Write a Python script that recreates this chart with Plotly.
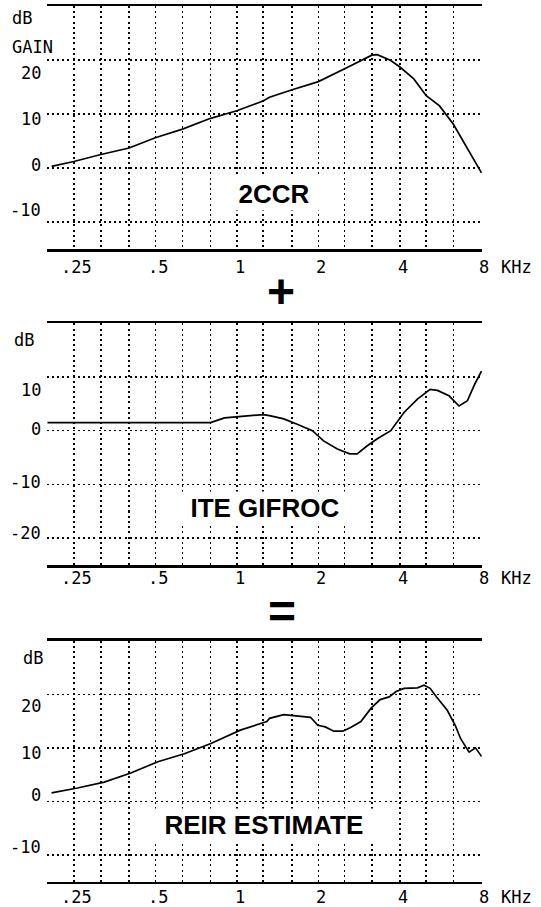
import math
import plotly.graph_objects as go

# ---------------- data (kHz, dB) ----------------
freq_2ccr = [0.207, 0.25, 0.315, 0.4, 0.5, 0.63, 0.8, 1.0, 1.25, 1.32, 1.6, 2.0, 2.5,
             2.8, 3.15, 3.3, 3.7, 4.0, 4.5, 5.0, 5.6, 6.3, 7.1, 8.0]
gain_2ccr = [0.3, 1.2, 2.5, 3.7, 5.6, 7.2, 9.2, 10.6, 12.4, 13.1, 14.5, 16.0, 18.4,
             19.6, 20.9, 21.0, 19.9, 18.7, 16.5, 13.4, 11.5, 8.1, 3.7, -0.9]

freq_ite = [0.2, 0.25, 0.315, 0.4, 0.5, 0.63, 0.8, 0.9, 1.0, 1.25, 1.32, 1.49, 1.67,
            1.90, 2.09, 2.35, 2.61, 2.78, 3.03, 3.30, 3.70, 4.14, 4.64, 5.17, 5.50,
            6.07, 6.61, 7.10, 7.56, 8.0]
gain_ite = [1.5, 1.5, 1.5, 1.5, 1.5, 1.5, 1.5, 2.4, 2.6, 3.0, 2.8, 2.2, 1.2,
            0.0, -1.9, -3.4, -4.3, -4.3, -2.8, -1.5, 0.0, 3.4, 5.9, 7.7, 7.5,
            6.5, 4.6, 5.6, 8.7, 11.1]

freq_reir = [0.207, 0.258, 0.324, 0.406, 0.511, 0.64, 0.802, 1.03, 1.29, 1.32, 1.49,
             1.67, 1.87, 1.99, 2.12, 2.28, 2.46, 2.63, 2.87, 3.13, 3.38, 3.65, 3.87,
             4.14, 4.64, 4.91, 5.17, 5.46, 5.98, 6.40, 6.70, 7.20, 7.60, 8.0]
gain_reir = [1.6, 2.5, 3.6, 5.3, 7.4, 8.9, 10.8, 13.3, 14.9, 15.5, 16.2,
             16.0, 15.7, 14.2, 13.9, 13.1, 13.1, 13.8, 14.9, 17.4, 19.0, 19.5, 20.5,
             21.1, 21.2, 21.7, 21.1, 19.5, 17.0, 14.2, 11.7, 9.2, 10.0, 8.4]

grid_freqs = [0.2, 0.25, 0.315, 0.4, 0.5, 0.63, 0.8, 1, 1.25, 1.6, 2, 2.5, 3.15, 4, 5, 6.3, 8]
freq_labels = {0.25: ".25", 0.5: ".5", 1: "1", 2: "2", 4: "4", 8: "8"}

panel_titles = ["2CCR", "ITE GIFROC", "REIR ESTIMATE"]
panel_yticks = [[-10, 0, 10, 20], [-20, -10, 0, 10], [-10, 0, 10, 20]]
panel_yranges = [[-15, 30], [-25, 20], [-15, 30]]

# ---------------- layout geometry (pixels) ----------------
W, H = 541, 907
X0, X1 = 47.5, 481.5
lo, hi = math.log10(0.2), math.log10(8)
pad = 0.003
ppu = (X1 - X0) / (hi - lo)
xdom = [(X0 - pad * ppu) / W, (X1 + pad * ppu) / W]

panel_px = [(6, 249), (323.3, 565), (640.7, 881.7)]      # top, bottom of plot areas
label_shift = [{20: -13, 10: -5, 0: 3, -10: 12},
               {10: -13, 0: 2, -10: 2, -20: 5},
               {20: -12, 10: -5, 0: 6, -10: 8}]
xlabel_offset = [18, 13, 15]          # centre of x labels below plot bottom
title_px = [(273.7, 194.2), (265, 507.5), (264.2, 825)]

MONO = "DejaVu Sans Mono"
SANS = "Liberation Sans, Arial, sans-serif"
DOT = "2px,3.2px"
FS = 17

fig = go.Figure()
series = [(freq_2ccr, gain_2ccr), (freq_ite, gain_ite), (freq_reir, gain_reir)]
annotations = []

for i, (fx, gy) in enumerate(series):
    n = "" if i == 0 else str(i + 1)
    xa = "x" + n
    fig.add_trace(go.Scatter(x=fx, y=gy, mode="lines",
                             line=dict(color="black", width=1.7),
                             xaxis=xa, yaxis="y" + n, showlegend=False,
                             hoverinfo="skip"))
    top, bot = panel_px[i]
    ydom = [1 - bot / H, 1 - top / H]
    fig.update_layout(**{
        "xaxis" + n: dict(
            type="log", range=[lo - pad, hi + pad], domain=xdom, anchor="y" + n,
            tickvals=grid_freqs, showticklabels=False, ticks="",
            showgrid=True, gridcolor="black", gridwidth=1.5, griddash=DOT,
            showline=True, mirror=True, linecolor="black", linewidth=2.5,
            zeroline=False, fixedrange=True, automargin=False),
        "yaxis" + n: dict(
            range=panel_yranges[i], domain=ydom, anchor="x" + n,
            tickvals=panel_yticks[i], showticklabels=False, ticks="",
            showgrid=True, gridcolor="black", gridwidth=1.5, griddash=DOT,
            showline=False, zeroline=False, fixedrange=True, automargin=False),
    })
    # x tick labels
    for f, lab in freq_labels.items():
        annotations.append(dict(
            text=lab, x=math.log10(f), xref=xa, xanchor="center", xshift=3,
            y=1 - (bot + xlabel_offset[i]) / H, yref="paper", yanchor="middle",
            showarrow=False, font=dict(family=MONO, size=FS, color="black")))
    # y tick labels (printed slightly off the grid lines, as in the original)
    for v in panel_yticks[i]:
        annotations.append(dict(
            text=str(v), x=43 / W, xref="paper", xanchor="right",
            y=v, yref="y" + n, yanchor="middle", yshift=label_shift[i][v],
            showarrow=False, font=dict(family=MONO, size=FS, color="black")))
    # KHz unit label
    annotations.append(dict(
        text="KHz", x=499 / W, xref="paper", xanchor="left",
        y=1 - (bot + xlabel_offset[i]) / H, yref="paper", yanchor="middle",
        showarrow=False, font=dict(family=MONO, size=FS, color="black")))
    # big panel title with white box
    tx, ty = title_px[i]
    annotations.append(dict(
        text="&nbsp;&nbsp;" + panel_titles[i] + "&nbsp;&nbsp;",
        x=tx / W, y=1 - ty / H, xref="paper", yref="paper",
        xanchor="center", yanchor="middle", showarrow=False,
        bgcolor="white", borderpad=1,
        font=dict(family=SANS, size=26, color="black", weight=700)))

# dB / GAIN labels
extra = [
    dict(text="dB", x=10 / W, y=1 - 18 / H),
    dict(text="GAIN", x=10 / W, y=1 - 46.5 / H),
    dict(text="dB", x=12 / W, y=1 - 340 / H),
    dict(text="dB", x=21 / W, y=1 - 657.5 / H),
]
for a in extra:
    a.update(xref="paper", yref="paper", xanchor="left", yanchor="middle",
             showarrow=False, font=dict(family=MONO, size=FS, color="black"))
annotations += extra

# operators between panels
ops = [
    dict(text="+", x=281 / W, y=1 - 291 / H),
    dict(text="=", x=282 / W, y=1 - 611 / H),
]
for a in ops:
    a.update(xref="paper", yref="paper", xanchor="center", yanchor="middle",
             showarrow=False, font=dict(family=SANS, size=48, color="black", weight=700))
annotations += ops

fig.update_layout(
    template="none",
    width=W, height=H, margin=dict(l=0, r=0, t=0, b=0, autoexpand=False),
    paper_bgcolor="white", plot_bgcolor="white",
    showlegend=False, annotations=annotations,
)

fig.write_html("out.html", config={"displayModeBar": False, "staticPlot": True},
               post_script="document.body.style.margin='0';document.body.style.overflow='hidden';")
